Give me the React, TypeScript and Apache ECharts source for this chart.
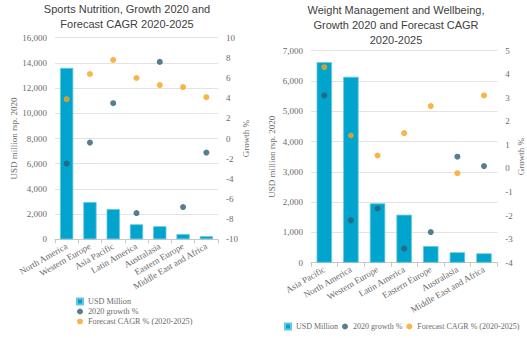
import React, { useEffect, useRef } from "react";
import * as echarts from "echarts";

const sportsCategories = ["North America", "Western Europe", "Asia Pacific", "Latin America", "Australasia", "Eastern Europe", "Middle East and Africa"];
const sportsUsd = [13600, 2960, 2400, 1190, 1040, 420, 250];
const sportsGrowth = [-2.5, -0.4, 3.5, -7.4, 7.6, -6.8, -1.4];
const sportsCagr = [3.9, 6.4, 7.8, 6.0, 5.3, 5.1, 4.1];

const weightCategories = ["Asia Pacific", "North America", "Western Europe", "Latin America", "Eastern Europe", "Australasia", "Middle East and Africa"];
const weightUsd = [6620, 6140, 1960, 1585, 550, 345, 310];
const weightGrowth = [3.1, -2.2, -1.7, -3.4, -2.7, 0.5, 0.1];
const weightCagr = [4.3, 1.4, 0.55, 1.5, 2.65, -0.2, 3.1];

const titles = ["Sports Nutrition, Growth 2020 and\nForecast CAGR 2020-2025", "Weight Management and Wellbeing,\nGrowth 2020 and Forecast CAGR\n2020-2025"];
const seriesNames = ["USD Million", "2020 growth %", "Forecast CAGR % (2020-2025)"];
const leftAxisName = "USD million rsp. 2020";
const rightAxisName = "Growth %";

const BAR = "#00a4cc";
const DARK = "#2d5d75";
const ORANGE = "#f7a21b";
const SERIF = "'Liberation Serif', 'DejaVu Serif', serif";
const SANS = "'Liberation Sans', Arial, sans-serif";
const GREY = "#6b6b6b";

function catAxis(gridIndex: number, data: string[]) {
  return {
    type: "category",
    gridIndex,
    data,
    axisLine: { lineStyle: { color: "#c8c8c8" } },
    axisTick: { show: true, length: 4, lineStyle: { color: "#c8c8c8" } },
    axisLabel: { interval: 0, rotate: 30, fontFamily: SERIF, fontSize: 9, color: GREY, margin: 6 },
  };
}

function valAxis(gridIndex: number, min: number, max: number, interval: number, pos: string, name: string, nameGap: number, fmt: boolean, grid: boolean) {
  return {
    type: "value",
    gridIndex,
    min,
    max,
    interval,
    position: pos,
    name,
    nameLocation: "middle",
    nameGap,
    nameTextStyle: { fontFamily: SERIF, fontSize: 9, color: GREY },
    axisLine: { show: false },
    axisTick: { show: false },
    splitLine: { show: grid, lineStyle: { color: "#e3e3e3" } },
    axisLabel: {
      fontFamily: SERIF,
      fontSize: 9,
      color: GREY,
      margin: 8,
      formatter: fmt ? (v: number) => v.toLocaleString("en-US") : (v: number) => String(v),
    },
  };
}

const legendData = [
  { name: seriesNames[0], icon: "rect" },
  { name: seriesNames[1], icon: "circle" },
  { name: seriesNames[2], icon: "circle" },
];

export default function App() {
  const ref = useRef<HTMLDivElement>(null);
  useEffect(() => {
    if (!ref.current) return;
    const chart = echarts.init(ref.current, undefined, { renderer: "svg" });
    const barStyle = { color: BAR, borderColor: "#66c8e0", borderWidth: 0.8 };
    chart.setOption({
      animation: false,
      graphic: [
        { type: "text", x: 127, y: 1.5, style: { text: titles[0], textAlign: "center", textVerticalAlign: "top", font: `11px ${SANS}`, fill: "#404040", lineHeight: 14.7 } },
        { type: "text", x: 396, y: 3, style: { text: titles[1], textAlign: "center", textVerticalAlign: "top", font: `11px ${SANS}`, fill: "#404040", lineHeight: 14.7 } },
      ],
      grid: [
        { left: 55, right: 309, top: 37.7, bottom: 98.7 },
        { left: 311, right: 29.7, top: 50.7, bottom: 75.3 },
      ],
      legend: [
        {
          orient: "vertical",
          left: 76,
          top: 297.5,
          width: 180,
          height: 60,
          padding: 0,
          itemWidth: 6,
          itemHeight: 6,
          itemGap: 2,
          textStyle: { fontFamily: SERIF, fontSize: 8.2, color: GREY },
          data: legendData,
        },
        {
          orient: "horizontal",
          left: 284,
          top: 322.5,
          width: 300,
          height: 20,
          padding: 0,
          itemWidth: 6,
          itemHeight: 6,
          itemGap: 4,
          textStyle: { fontFamily: SERIF, fontSize: 8, color: GREY },
          data: legendData,
        },
      ],
      xAxis: [catAxis(0, sportsCategories), catAxis(1, weightCategories)],
      yAxis: [
        valAxis(0, 0, 16000, 2000, "left", leftAxisName, 37, true, true),
        valAxis(0, -10, 10, 2, "right", rightAxisName, 22, false, false),
        valAxis(1, 0, 7000, 1000, "left", leftAxisName, 35, true, true),
        valAxis(1, -4, 5, 1, "right", rightAxisName, 19, false, false),
      ],
      series: [
        { name: seriesNames[0], type: "bar", xAxisIndex: 0, yAxisIndex: 0, data: sportsUsd, barCategoryGap: "43%", itemStyle: barStyle },
        { name: seriesNames[1], type: "scatter", xAxisIndex: 0, yAxisIndex: 1, data: sportsGrowth, symbolSize: 6, itemStyle: { color: DARK } },
        { name: seriesNames[2], type: "scatter", xAxisIndex: 0, yAxisIndex: 1, data: sportsCagr, symbolSize: 6, itemStyle: { color: ORANGE } },
        { name: seriesNames[0], type: "bar", xAxisIndex: 1, yAxisIndex: 2, data: weightUsd, barCategoryGap: "42%", itemStyle: barStyle },
        { name: seriesNames[1], type: "scatter", xAxisIndex: 1, yAxisIndex: 3, data: weightGrowth, symbolSize: 6, itemStyle: { color: DARK } },
        { name: seriesNames[2], type: "scatter", xAxisIndex: 1, yAxisIndex: 3, data: weightCagr, symbolSize: 6, itemStyle: { color: ORANGE } },
      ],
    });
    return () => chart.dispose();
  }, []);
  return <div ref={ref} style={{ position: "fixed", left: 0, top: 0, width: 527, height: 338, background: "#fff" }} />;
}
